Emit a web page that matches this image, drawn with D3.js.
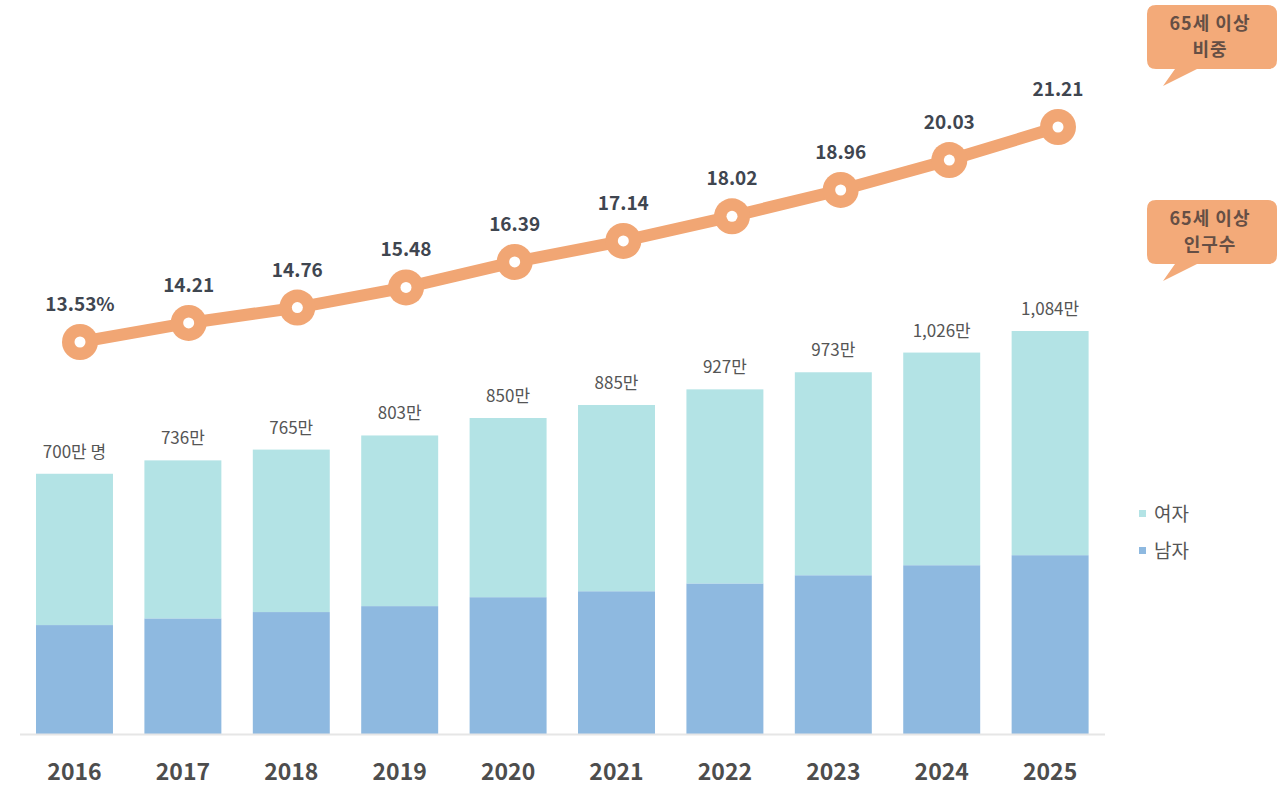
<!DOCTYPE html>
<html>
<head>
<meta charset="utf-8">
<script src="https://cdn.jsdelivr.net/npm/d3@7"></script>
<style>
  html, body { margin: 0; padding: 0; background: #fff; }
  svg { display: block; font-family: "Noto Sans CJK KR", "Noto Sans", sans-serif; }
</style>
</head>
<body>
<svg id="chart" width="1280" height="806"></svg>
<script>
const years = ["2016", "2017", "2018", "2019", "2020", "2021", "2022", "2023", "2024", "2025"];
const totals = [700, 736, 765, 803, 850, 885, 927, 973, 1026, 1084]; // 만 명
const male = [293, 311, 328, 344, 368, 384, 405, 427, 454, 481];
const female = totals.map((t, i) => t - male[i]);
const totalLabels = ["700만 명", "736만", "765만", "803만", "850만", "885만", "927만", "973만", "1,026만", "1,084만"];
const share = [13.53, 14.21, 14.76, 15.48, 16.39, 17.14, 18.02, 18.96, 20.03, 21.21]; // %
const shareLabels = ["13.53%", "14.21", "14.76", "15.48", "16.39", "17.14", "18.02", "18.96", "20.03", "21.21"];
const legendItems = [{ name: "여자", color: "#b3e3e5" }, { name: "남자", color: "#8eb9e0" }];

const svg = d3.select("#chart");

const baseY = 734;

// x band for the bars
const x = d3.scaleBand()
    .domain(years)
    .range([36, 1088.6])
    .paddingInner(0.29)
    .paddingOuter(0);

// bar heights: 0 만 at baseline
const yBar = d3.scaleLinear()
    .domain([0, 1084])
    .range([baseY, 331]);

// the line sits a little off the bar centres
const xLine = d3.scaleLinear()
    .domain([0, years.length - 1])
    .range([80, 1058]);

const yLine = d3.scaleLinear()
    .domain([13.53, 21.21])
    .range([342, 127]);

// stacked bars
const stackData = years.map((yr, i) => ({ year: yr, male: male[i], female: female[i] }));
const series = d3.stack().keys(["male", "female"])(stackData);
const colors = { male: "#8eb9e0", female: "#b3e3e5" };

svg.append("g")
  .selectAll("g")
  .data(series)
  .join("g")
    .attr("fill", d => colors[d.key])
  .selectAll("rect")
  .data(d => d)
  .join("rect")
    .attr("x", d => x(d.data.year))
    .attr("y", d => yBar(d[1]))
    .attr("width", x.bandwidth())
    .attr("height", d => yBar(d[0]) - yBar(d[1]));

// baseline
svg.append("line")
    .attr("x1", 20).attr("x2", 1105)
    .attr("y1", baseY + 0.5).attr("y2", baseY + 0.5)
    .attr("stroke", "#e6e6e6")
    .attr("stroke-width", 2);

// year axis
const xAxis = svg.append("g")
    .attr("transform", `translate(0,${baseY})`)
    .call(d3.axisBottom(x).tickSize(0).tickPadding(30));
xAxis.select(".domain").remove();
xAxis.selectAll("text")
    .attr("font-size", 23)
    .attr("font-weight", 700)
    .attr("fill", "#4d4d4d")
    .attr("font-family", "\"Noto Sans CJK KR\", sans-serif");

// total labels on bars
svg.append("g")
  .selectAll("text")
  .data(totals)
  .join("text")
    .attr("x", (d, i) => x(years[i]) + x.bandwidth() / 2)
    .attr("y", d => yBar(d) - 16)
    .attr("text-anchor", "middle")
    .attr("font-size", 17)
    .attr("fill", "#555")
    .text((d, i) => totalLabels[i]);

// share line
const line = d3.line()
    .x((d, i) => xLine(i))
    .y(d => yLine(d));

svg.append("path")
    .datum(share)
    .attr("d", line)
    .attr("fill", "none")
    .attr("stroke", "#f1a674")
    .attr("stroke-width", 12)
    .attr("stroke-linejoin", "round");

const pts = svg.append("g")
  .selectAll("g")
  .data(share)
  .join("g")
    .attr("transform", (d, i) => `translate(${xLine(i)},${yLine(d)})`);
pts.append("circle").attr("r", 18).attr("fill", "#f1a674");
pts.append("circle").attr("r", 5.5).attr("fill", "#fff");

svg.append("g")
  .selectAll("text")
  .data(share)
  .join("text")
    .attr("x", (d, i) => xLine(i))
    .attr("y", d => yLine(d) - 31)
    .attr("text-anchor", "middle")
    .attr("font-size", 19)
    .attr("font-weight", 700)
    .attr("fill", "#3f4650")
    .text((d, i) => shareLabels[i]);

// callout bubbles
function bubble(top, lines) {
  const left = 1147, w = 130, h = 64, r = 9;
  const tipX = 1163, tipY = top + h + 17;
  const p = d3.path();
  p.moveTo(left + r, top);
  p.lineTo(left + w - r, top);
  p.quadraticCurveTo(left + w, top, left + w, top + r);
  p.lineTo(left + w, top + h - r);
  p.quadraticCurveTo(left + w, top + h, left + w - r, top + h);
  p.lineTo(left + 50, top + h);
  p.lineTo(tipX, tipY);
  p.lineTo(left + 28, top + h);
  p.lineTo(left + r, top + h);
  p.quadraticCurveTo(left, top + h, left, top + h - r);
  p.lineTo(left, top + r);
  p.quadraticCurveTo(left, top, left + r, top);
  p.closePath();
  const g = svg.append("g");
  g.append("path").attr("d", p.toString()).attr("fill", "#f3aa79");
  g.selectAll("text")
    .data(lines)
    .join("text")
      .attr("x", left + w / 2 - 2)
      .attr("y", (d, i) => top + 25 + i * 26)
      .attr("text-anchor", "middle")
      .attr("font-size", 18)
      .attr("font-weight", 700)
      .attr("letter-spacing", 1)
      .attr("fill", "#654f45")
      .text(d => d);
}
bubble(5, ["65세 이상", "비중"]);
bubble(200, ["65세 이상", "인구수"]);

// legend
const legend = svg.append("g")
  .selectAll("g")
  .data(legendItems)
  .join("g")
    .attr("transform", (d, i) => `translate(1139,${514 + i * 37})`);
legend.append("rect")
    .attr("x", 0).attr("y", -4)
    .attr("width", 7).attr("height", 7)
    .attr("fill", d => d.color);
legend.append("text")
    .attr("x", 15).attr("y", 7)
    .attr("font-size", 19)
    .attr("fill", "#555")
    .text(d => d.name);
</script>
</body>
</html>
